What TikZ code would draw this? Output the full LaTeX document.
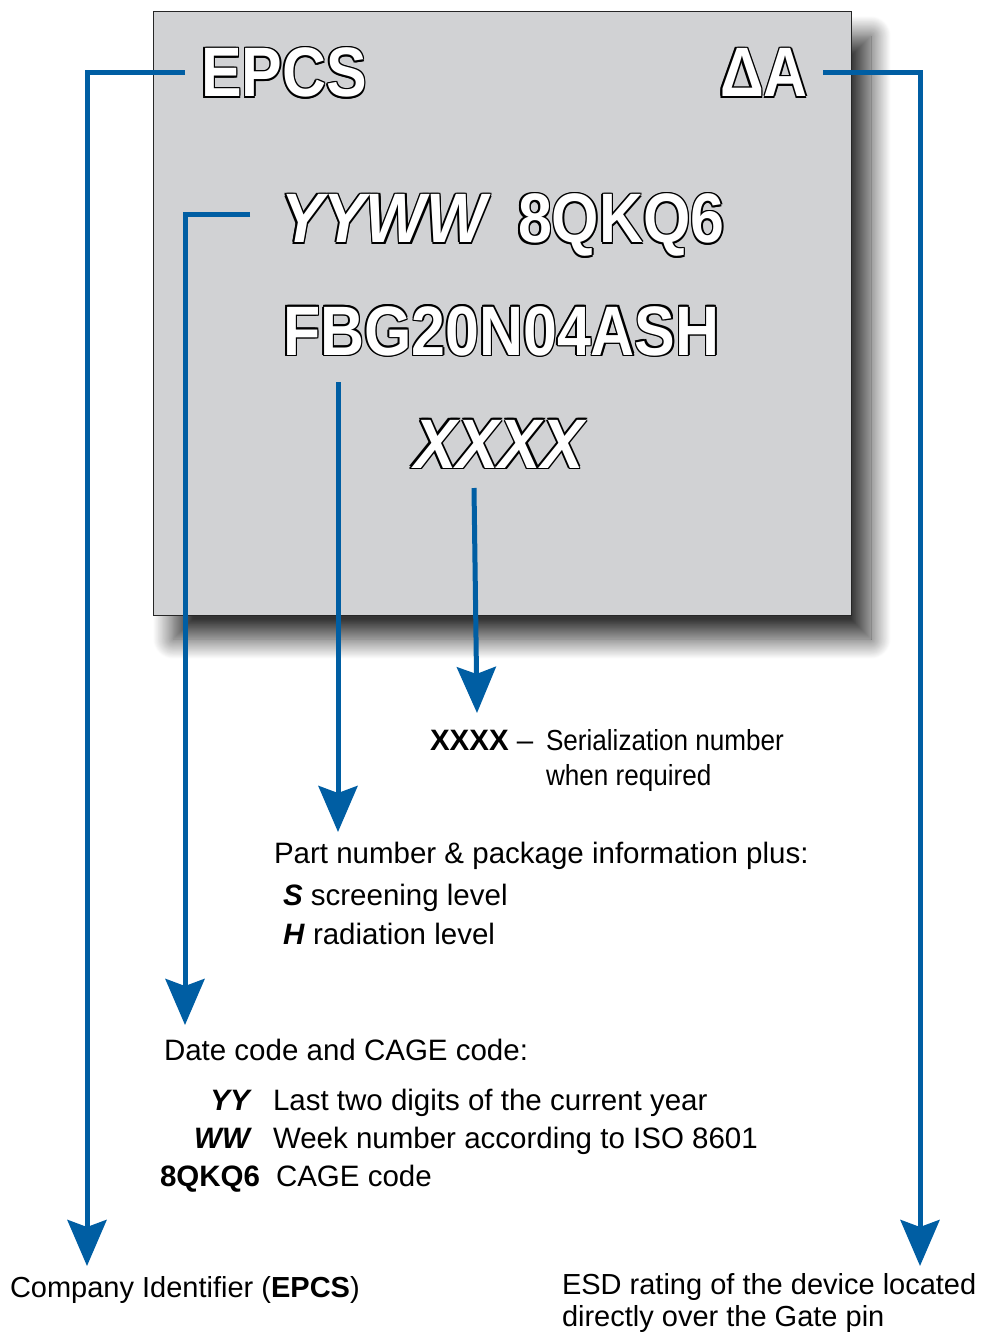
\documentclass[tikz,border=0pt]{standalone}
\usepackage{fontspec}
\setmainfont{Liberation Sans}
\newfontfamily\chipfont[FakeStretch=0.87]{Liberation Sans}
\newfontfamily\chipitfont[FakeStretch=0.91]{Liberation Sans}
\newfontfamily\narrowfont[FakeStretch=0.9]{Liberation Sans}
\usetikzlibrary{arrows.meta,shadows.blur}
\definecolor{epcblue}{RGB}{0,94,163}
\definecolor{chipgray}{RGB}{209,210,212}
% outlined marking: black copies around, white text on top (named)
\newcommand\outlinenode[4]{%
  \foreach \ox/\oy in {1.5/0,-1.5/0,0/1.5,0/-1.5,1.06/1.06,-1.06/1.06,1.06/-1.06,-1.06/-1.06}{%
    \node[#2,text=black,xshift=\ox pt,yshift=\oy pt] at (#3) {#4};}%
  \node[#2,text=white] (#1) at (#3) {#4};}
\begin{document}
\begin{tikzpicture}[x=1pt,y=-1pt,
  every node/.style={inner sep=0pt,outer sep=0pt},
  chipbox/.style={draw=black!85,line width=1pt,fill=chipgray,minimum width=698pt,minimum height=603pt,anchor=north west,
    blur shadow={shadow xshift=20pt,shadow yshift=-24pt,shadow blur radius=20pt,shadow blur steps=24,shadow opacity=80}},
  chiptext/.style={anchor=base west,font=\chipfont\bfseries\fontsize{70}{70}\selectfont},
  chipital/.style={anchor=base west,font=\chipitfont\bfseries\itshape\fontsize{70}{70}\selectfont},
  lbl/.style={anchor=base west,font=\fontsize{29.5}{35}\selectfont},
  lblsmall/.style={anchor=base west,font=\fontsize{29}{35}\selectfont},
  lblnarrow/.style={anchor=base west,font=\narrowfont\fontsize{29}{35}\selectfont},
  conn/.style={draw=epcblue,line width=5pt,-{Stealth[length=46pt,width=39pt,inset=7pt]}}]
\useasboundingbox (0,0) rectangle (984,1332);
\node[chipbox] (chip) at (153,12) {};
% connector end points
\coordinate (s1) at (185,73);  \coordinate (t1) at (87,1266);
\coordinate (s2) at (823,73);  \coordinate (t2) at (920,1266);
\coordinate (s3) at (250,215); \coordinate (t3) at (185,1025);
\coordinate (s4) at (338,382); \coordinate (t4) at (338,832);
\coordinate (s5) at (474,488); \coordinate (t5) at (477,713);
\draw[conn] (s1) -| (t1);
\draw[conn] (s2) -| (t2);
\draw[conn] (s3) -| (t3);
\draw[conn] (s4) -- (t4);
\draw[conn] (s5) -- (t5);
% chip marking
\outlinenode{epcs}{chiptext}{201,97}{EPCS}
\outlinenode{esdmark}{chiptext}{720,97}{ΔA}
\outlinenode{yyww}{chipital}{281,243}{YYWW}
\outlinenode{cagemark}{chiptext}{518,243}{8QKQ6}
\outlinenode{pn}{chiptext}{283,355}{FBG20N04ASH}
\outlinenode{sermark}{chipital}{414,468}{XXXX}
% labels
\node[lbl] (xx) at (430,750) {\textbf{XXXX} –};
\node[lblnarrow] (ser1) at (546,750) {Serialization number};
\node[lblnarrow] (ser2) at (546,785) {when required};
\node[lbl] (part) at (274,863) {Part number \& package information plus:};
\node[lbl] (scr) at (283,905) {\textbf{\textit{S}} screening level};
\node[lbl] (rad) at (283,944) {\textbf{\textit{H}} radiation level};
\node[lbl] (date) at (164,1060) {Date code and CAGE code:};
\node[lbl,anchor=base east] (yy) at (252,1110) {\textbf{\textit{YY}}};
\node[lbl] (yyt) at (273,1110) {Last two digits of the current year};
\node[lbl,anchor=base east] (ww) at (252,1148) {\textbf{\textit{WW}}};
\node[lbl] (wwt) at (273,1148) {Week number according to ISO 8601};
\node[lbl] (cage) at (160,1186) {\textbf{8QKQ6}};
\node[lbl] (caget) at (276,1186) {CAGE code};
\node[lblsmall] (company) at (10,1297) {Company Identifier (\textbf{EPCS})};
\node[lblsmall] (esd1) at (562,1294) {ESD rating of the device located};
\node[lblsmall] (esd2) at (562,1326) {directly over the Gate pin};
\end{tikzpicture}
\end{document}
